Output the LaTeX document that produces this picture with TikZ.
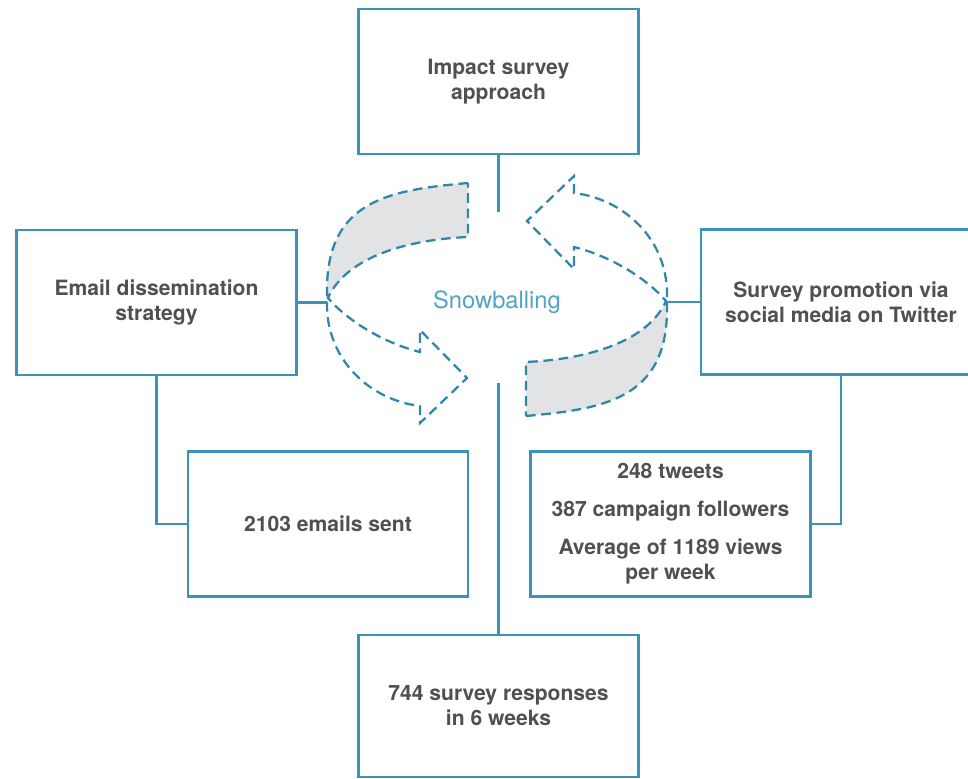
\documentclass[tikz,border=0pt]{standalone}
\usepackage{fontspec}
\setmainfont{TeX Gyre Heros}
\usepackage{xcolor}
\usepackage{tikz}
\usetikzlibrary{positioning}

\definecolor{boxblue}{HTML}{3B93B5}
\definecolor{dashblue}{HTML}{2F87AA}
\definecolor{snowblue}{HTML}{4FA3C7}
\definecolor{textgray}{HTML}{505050}
\definecolor{ribbongray}{HTML}{E2E3E5}

\tikzset{
    box/.style={draw=boxblue, line width=1.3pt, minimum width=5.6cm, minimum height=2.9cm,
        align=center, text=textgray, font=\fontsize{12}{14.2}\selectfont\bfseries},
    link/.style={draw=boxblue, line width=1.3pt},
    ribbon/.style={draw=dashblue, line width=1.3pt, dash pattern=on 5.5pt off 3.2pt}
}

\begin{document}
\begin{tikzpicture}[x=0.2mm, y=-0.2mm]
    \useasboundingbox (0,0) rectangle (968,779);
    \clip (0,0) rectangle (968,779);

    % the two turning arrows
    \foreach \turn in {0,180} {
        \begin{scope}[rotate around={\turn:(497,299.5)}]
            \fill[ribbongray] (468,183) .. controls (390,190) and (327,200) .. (327,290)
                -- (328,298) .. controls (345,260) and (400,240) .. (468,237) -- cycle;
            \draw[ribbon] (468,183) .. controls (390,190) and (327,200) .. (327,290)
                -- (327,305) .. controls (327,360) and (370,400) .. (420,406)
                -- (420,423) -- (467,378) -- (420,330) -- (420,352)
                .. controls (380,342) and (345,318) .. (328,298)
                .. controls (345,260) and (400,240) .. (468,237) -- cycle;
        \end{scope}
    }
    \node[text=snowblue, font=\fontsize{13.5}{15}\selectfont] (snow) at (497,302) {Snowballing};

    \node[box] (impact) at (498.5,81.5) {Impact survey\\approach};
    \node[box] (email) at (156.5,302.5) {Email dissemination\\strategy};
    \node[box] (twitter) at (841,302) {Survey promotion via\\social media on Twitter};
    \node[box] (emails) at (328,524) {2103 emails sent};
    \node[box] (tweets) at (670.5,524) {248 tweets\\[7.5pt]387 campaign followers\\[7.5pt]Average of 1189 views\\per week};
    \node[box, minimum height=2.84cm] (responses) at (498.5,706) {744 survey responses\\in 6 weeks};

    \coordinate (topend) at (498.5,212);
    \coordinate (botend) at (498.5,383);
    \coordinate (leftx) at (327,302.5);
    \coordinate (rightx) at (667,302);

    \draw[link] (impact.south) -- (topend);
    \draw[link] (botend) -- (responses.north);
    \draw[link] (email.east) -- (leftx);
    \draw[link] (twitter.west) -- (rightx);
    \draw[link] (email.south) |- (emails.west);
    \draw[link] (twitter.south) |- (tweets.east);
\end{tikzpicture}
\end{document}
